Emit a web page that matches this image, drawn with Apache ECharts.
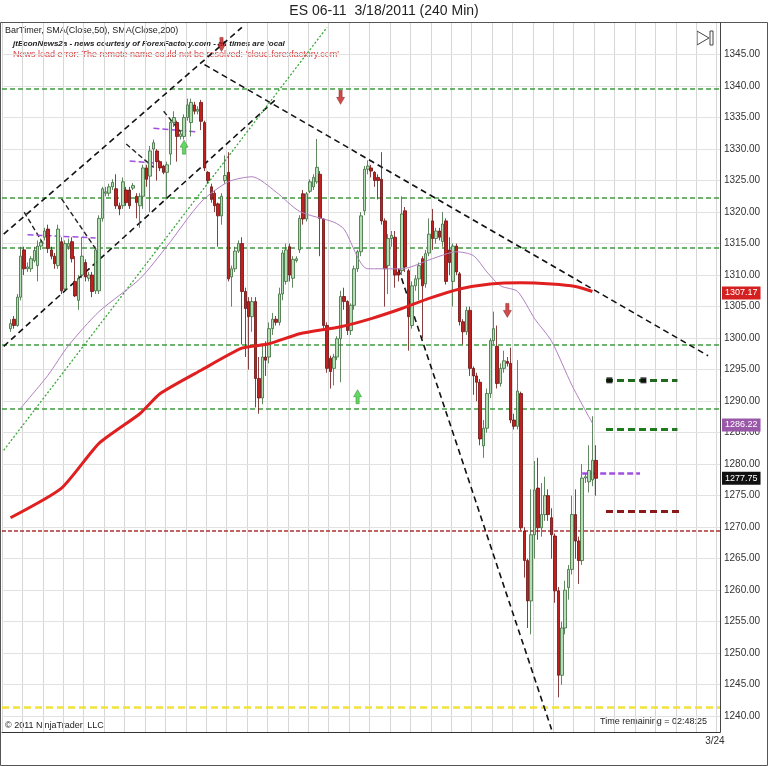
<!DOCTYPE html>
<html><head><meta charset="utf-8">
<script src="https://cdn.jsdelivr.net/npm/echarts@6/dist/echarts.min.js"></script>
<style>html,body{margin:0;padding:0;background:#fff}#c{width:768px;height:766px}</style>
</head><body><div id="c"></div>
<script>
// OHLC rows: [open, close, low, high]
const ohlc = [
[1301.5,1302.3,1301,1303],[1303,1302,1301.5,1303.5],[1302,1306.5,1301.8,1307],[1306.5,1313,1306,1314.5],
[1314,1311,1310,1314.5],[1311,1311.3,1310.5,1312],[1311,1312.6,1310.5,1313],[1312.3,1313.9,1312,1314.5],
[1311.5,1314.6,1309,1315.5],[1314.6,1315.2,1314,1315.8],[1316,1317,1315.5,1317.5],[1317.3,1314.2,1313.5,1318],
[1314,1313,1312.5,1314.5],[1313,1311.8,1311,1313.5],[1311.5,1317.3,1311,1318],[1315.3,1307.5,1307,1316],
[1307.8,1315,1307.5,1315.5],[1314.5,1315,1314,1315.8],[1315.3,1312.6,1312,1316],[1309,1306.7,1306.5,1313],
[1306,1309.4,1304.5,1310],[1310,1313,1309.5,1316],[1312,1309.7,1309,1312.5],[1309.5,1310,1309,1310.5],
[1310,1307.4,1306.5,1310.5],[1307.5,1314,1307,1314.5],[1307.5,1319,1307,1319.5],[1319,1323.7,1318.5,1324],
[1323,1323.2,1322.5,1324],[1323,1324,1322.5,1324.5],[1324,1324.7,1323.5,1325.2],[1323.7,1321,1320.5,1326],
[1321,1320.5,1319.5,1321.5],[1321,1324.8,1320.5,1325.5],[1323.5,1321.5,1321,1324],[1323.5,1321,1320.5,1324],
[1323.8,1324.2,1323.5,1324.6],[1322.5,1321.5,1319,1323],[1321,1322.5,1317.5,1323],[1322.5,1327,1320.5,1327.5],
[1327,1325.2,1324,1327.5],[1325.7,1329.7,1320,1330.5],[1330,1331,1327,1331.5],[1329.7,1328,1325,1330],
[1328,1327,1326.5,1328.2],[1327.3,1326.3,1326,1327.5],[1326.3,1327.5,1322,1328],[1329.2,1334.2,1327.5,1334.5],
[1334.2,1335,1333.5,1336],[1334.2,1332,1328,1334.5],[1332,1332.4,1331.5,1333],[1332,1335,1331.5,1335.5],
[1335,1337,1334.5,1338],[1334.2,1337.4,1332,1338],[1337,1336,1335.5,1337.5],[1336,1336.3,1335.5,1336.8],
[1337.4,1334.4,1333,1337.8],[1334.2,1327,1326.5,1334.5],[1326.3,1325,1324.5,1326.5],[1324,1322,1321.5,1324.5],
[1323,1321,1320,1323.5],[1321.3,1319.4,1314.5,1321.5],[1319.4,1322.5,1318,1323],[1325,1325.8,1324.5,1329],
[1326.3,1309.4,1309,1329.5],[1309.7,1311,1305,1311.5],[1311,1313.8,1310.5,1314.5],[1313.8,1315,1313.5,1315.5],
[1315,1307.4,1299,1316],[1307.4,1304.7,1297,1308],[1305.8,1303.4,1295,1306.5],[1303.4,1305.8,1301,1306.5],
[1305.8,1293.6,1289,1306.5],[1293.6,1290.5,1288,1297],[1290.5,1297,1289.5,1299],[1297,1296.5,1294,1299.5],
[1297,1301.5,1296,1302.5],[1301.5,1303,1300.5,1304],[1303,1302.5,1302,1303.5],[1302.5,1307,1302,1308],
[1307,1313.5,1306,1314],[1309,1314,1308.5,1315],[1314.5,1310,1309,1315],[1309.5,1312.5,1308,1313],
[1312.3,1312.6,1312,1313],[1314,1319,1313.5,1319.5],[1322.9,1318.9,1318,1323.5],[1318.9,1322.9,1318.5,1323.2],
[1323.3,1324.8,1323,1325.2],[1324,1325.5,1323.5,1326],[1324.8,1327.1,1324.5,1331.6],[1326,1319,1313,1326.5],
[1318.9,1302,1301.5,1319],[1302,1295.2,1294.5,1302.5],[1296.8,1294.7,1292,1297.2],[1295.2,1297,1292.5,1297.5],
[1297,1299.9,1296.5,1300.3],[1299.9,1306.6,1293,1307.5],[1306.6,1305.8,1304.5,1308],[1305.8,1301.2,1300.5,1306],
[1301.2,1305.2,1300.5,1305.5],[1305.2,1311,1304.5,1311.5],[1311,1313.7,1310.5,1314],[1313.7,1319.4,1313,1320],
[1320.2,1326.8,1319.5,1327.3],[1326.8,1327.3,1326,1328.2],[1327,1326.5,1325.5,1327.5],[1326.3,1325,1324,1326.5],
[1325.5,1325,1322,1326],[1325.2,1318.6,1318,1329.5],[1318.6,1311,1305,1319],[1311.5,1315.8,1307,1316.5],
[1315.8,1316.3,1314.5,1317],[1316,1310,1308,1317],[1310.5,1310,1309,1311],[1310.7,1319.7,1310,1322.5],
[1320.2,1311.3,1310.5,1320.8],[1310.7,1303.4,1298,1311],[1302,1308.3,1301.5,1309],[1308.3,1309.4,1307.5,1310],
[1309.4,1311.5,1306,1312],[1312.6,1308.3,1300,1313],[1308.6,1313.4,1308,1314],[1313.5,1316.5,1313,1319],
[1318.6,1315.8,1314,1320.5],[1315.8,1317,1315,1317.5],[1317,1316,1315.5,1317.5],[1315.3,1318.1,1314.5,1320],
[1318.6,1309,1308.5,1319],[1314,1312,1310,1316],[1309,1314.6,1305,1315],[1314.6,1310.5,1310,1315],
[1310.2,1302.6,1302,1310.5],[1302.6,1301,1299,1303],[1301,1304.4,1300.5,1305],[1304.4,1295.2,1294,1305],
[1295.2,1294,1291,1295.5],[1294,1293,1290,1294.5],[1293,1284,1283,1293.5],[1282.9,1285.7,1281,1287],
[1285.7,1291.2,1285,1292],[1291.2,1299.6,1290.5,1300],[1299.6,1301.5,1299,1304.2],[1298.7,1292.8,1292,1302],
[1292.8,1295.2,1292.3,1296],[1295.2,1296.4,1294.5,1298],[1296.3,1296,1295.5,1297],[1296,1287,1286.5,1298.5],
[1287,1286,1285.5,1288],[1286,1291.6,1285.5,1296.5],[1291.2,1269.9,1269.5,1291.5],[1269.4,1264.7,1262,1270],
[1264.7,1258.3,1254,1265],[1258.3,1268.8,1253,1276],[1268.8,1275.9,1265,1280.5],[1276.2,1269.9,1268,1281],
[1269.9,1272,1268.5,1277],[1272,1275,1271,1278],[1275,1272,1271,1276],[1271.5,1268.8,1265,1273],
[1268.6,1259.9,1258,1269],[1259.9,1246.5,1243,1260.5],[1246.5,1254,1245,1255],[1254,1260,1253,1261.5],
[1260.4,1263.3,1258.5,1264],[1263.3,1272,1262.5,1275],[1272,1267.8,1265,1276],[1267.8,1264.7,1261,1268.5],
[1264.7,1277.8,1264,1280],[1277.8,1278,1277,1278.5],[1277.2,1279,1275.5,1283],[1277.5,1280.6,1276.5,1287.6],
[1280.6,1277.75,1275,1283]
];
const leadSlots = 2, totalSlots = 211;
const dateLabels = {209: '3/24'};
// SMA(Close,200): [slot, value]
const sma200 = [[2.4,1271.5],[16.6,1276.2],[28.3,1283.3],[40.1,1288],[46,1291.2],[57.7,1294.9],[69.5,1298.4],[78.3,1299.1],[87.1,1300.7],[98.9,1301.8],[107.7,1303.1],[116.6,1304.7],[125.4,1306.3],[134.2,1307.8],[143,1308.6],[151.8,1308.8],[160.7,1308.6],[168,1308.2],[173.3,1307.4]];
// SMA(Close,50)
const sma50 = [[4.8,1288.9],[12.7,1294.1],[18.6,1298.8],[28.3,1304.2],[40.1,1309.4],[48,1314.6],[57.7,1321.6],[65.7,1324.8],[73.3,1325.6],[80.4,1323.2],[87.1,1320.1],[96.8,1318.4],[99.8,1317.3],[106.9,1311],[116.6,1311],[126.3,1312.6],[133.3,1313.7],[138,1313.1],[142.1,1310.5],[145.9,1308.3],[151,1307.4],[155.7,1303.1],[160.8,1299.5],[166.6,1292.5],[173.3,1286.5]];
const greenLevels = [1339.5,1322.3,1314.3,1298.9,1288.8];
const redLevel = 1269.4, yellowLevel = 1241.5;
const gridLevels = [1240,1245,1250,1255,1260,1265,1270,1275,1280,1285,1290,1295,1300,1305,1310,1315,1320,1325,1330,1335,1340,1345];
// trend lines [[slot,price],[slot,price]]
const blackTrends = [[[0,1316.5],[70,1349.3]],[[0,1298.7],[79.8,1337.9]],[[59.2,1343.4],[207.1,1297.2]],[[116,1311],[161.3,1237.9]]];
const smallBlack = [[[6.3,1320],[11.6,1314.6]],[[16.6,1322.1],[28.3,1313.4]],[[35.7,1330.8],[43.9,1327.1]],[[46.9,1336],[52.4,1332.7]]];
const greenDotted = [[0.4,1282.2],[94.5,1349.3]];
const purpleShort = [[[6.9,1316.4],[26.9,1315.9]],[[36.6,1328.1],[43.6,1327.8]],[[43.6,1333.3],[56.9,1332.7]],[[169.5,1278.5],[187.1,1278.5]]];
const rightShort = [{p:1293.3,a:176.9,b:198.3,c:'#1f6a1f'},{p:1285.5,a:176.9,b:198.3,c:'#1f7a1f'},{p:1272.5,a:176.9,b:198.9,c:'#8a1a1a'}];
const squareMarks = [[177.5,1293.3],[187.6,1293.3]];
const downArrows = [[63.6,1346.6],[98.6,1338.2],[148,1304.4]];
const upArrows = [[104.2,1290.7],[52.7,1330.3]];
const priceTags = [{v:1307.17,c:'#d42020'},{v:1286.22,c:'#9a58a8'},{v:1277.75,c:'#111'}];

const cats = []; for (let i=0;i<totalSlots;i++) cats.push('s'+i);
const candleData = []; for (let i=0;i<totalSlots;i++){ const k=i-leadSlots; candleData.push(k>=0&&k<ohlc.length?ohlc[k]:'-'); }

const mlines = [];
gridLevels.forEach(v=>mlines.push({yAxis:v,lineStyle:{color:'#e2e2e2',type:'solid',width:1}}));
greenLevels.forEach(v=>mlines.push({yAxis:v,lineStyle:{color:'#3f9a3f',type:[5,3],width:1.6}}));
mlines.push({yAxis:redLevel,lineStyle:{color:'#b03030',type:[4,2],width:1.5}});
mlines.push({yAxis:yellowLevel,lineStyle:{color:'#f2e23a',type:[7,4],width:2.6}});
blackTrends.forEach(s=>mlines.push([{coord:s[0],lineStyle:{color:'#111',type:[6,4],width:1.6}},{coord:s[1]}]));
smallBlack.forEach(s=>mlines.push([{coord:s[0],lineStyle:{color:'#222',type:[5,3],width:1.4}},{coord:s[1]}]));
mlines.push([{coord:greenDotted[0],lineStyle:{color:'#3aa83a',type:[2,2],width:1.3}},{coord:greenDotted[1]}]);
purpleShort.forEach((s,i)=>mlines.push([{coord:s[0],lineStyle:{color:'#a050e0',type:[6,3],width:i===3?2.6:1.5}},{coord:s[1]}]));
rightShort.forEach(r=>mlines.push([{coord:[r.a,r.p],lineStyle:{color:r.c,type:[7,4],width:3}},{coord:[r.b,r.p]}]));

const tagLines = priceTags.map(t=>({yAxis:t.v,lineStyle:{color:'rgba(0,0,0,0)',width:1},label:{show:true,position:'end',distance:2,formatter:t.v.toFixed(2),backgroundColor:t.c,color:'#fff',fontSize:9,padding:[2,3],fontFamily:'Liberation Sans'}}));

const arrowDown='path://M3,0 L7,0 L7,7 L10,7 L5,14 L0,7 L3,7 Z';
const arrowUp='path://M5,0 L10,7 L7,7 L7,14 L3,14 L3,7 L0,7 Z';

const chart = echarts.init(document.getElementById('c'));
chart.setOption({
 animation:false,
 backgroundColor:'#fff',
 grid:{left:2,right:48,top:23,bottom:34},
 xAxis:{type:'category',data:cats,boundaryGap:true,
   axisLine:{lineStyle:{color:'#333'}},
   axisTick:{interval:(i)=>i%6===0,lineStyle:{color:'#333'},length:5},
   axisLabel:{interval:0,formatter:(v,i)=>dateLabels[i]||'',fontSize:10,color:'#333',fontFamily:'Liberation Sans',margin:4},
   splitLine:{show:true,interval:(i)=>i%6===0,lineStyle:{color:'#d6d6d6'}}},
 yAxis:{type:'value',position:'right',min:1237.5,max:1350,interval:2.5,scale:true,
   axisLine:{show:true,lineStyle:{color:'#444'}},axisTick:{show:false},
   splitLine:{show:false},
   axisLabel:{fontSize:10,color:'#333',fontFamily:'Liberation Sans',margin:4,formatter:v=>(Math.round(v*10)%50===0&&v<=1345)?v.toFixed(2):''}},
 series:[
  {type:'candlestick',data:candleData,barWidth:3,
   itemStyle:{color:'#b4deb4',color0:'#c41f1f',borderColor:'#3a6a3a',borderColor0:'#6a1010',borderWidth:0.8},
   markLine:{silent:true,symbol:['none','none'],label:{show:false},data:mlines,z:1}},
  {type:'line',data:sma50,showSymbol:false,smooth:0.25,lineStyle:{color:'#b080c0',width:1},z:3},
  {type:'line',data:sma200,showSymbol:false,smooth:0.2,lineStyle:{color:'#e02020',width:3},z:3,
   markLine:{silent:true,symbol:['none','none'],data:tagLines}},
  {type:'scatter',data:downArrows,symbol:arrowDown,symbolSize:[8,14],itemStyle:{color:'#c41f1f',borderColor:'#701010',borderWidth:0.5},z:5},
  {type:'scatter',data:upArrows,symbol:arrowUp,symbolSize:[8,14],itemStyle:{color:'#3cd03c',borderColor:'#1a701a',borderWidth:0.5},z:5},
  {type:'scatter',data:squareMarks,symbol:'rect',symbolSize:6,itemStyle:{color:'#000'},z:5}
 ],
 graphic:[
  {type:'rect',shape:{x:0.5,y:22.5,width:767,height:743},style:{fill:'none',stroke:'#555',lineWidth:1},silent:true},
  {type:'text',x:384,y:4,style:{text:'ES 06-11  3/18/2011 (240 Min)',font:'14px "Liberation Sans"',fill:'#222',textAlign:'center'}},
  {type:'text',x:5,y:26,style:{text:'BarTimer, SMA(Close,50), SMA(Close,200)',font:'9px "Liberation Sans"',fill:'#222'}},
  {type:'text',x:13,y:40,style:{text:'jtEconNews2a - news courtesy of ForexFactory.com - all times are local',font:'italic bold 8px "Liberation Sans"',fill:'#222'}},
  {type:'text',x:13,y:50,style:{text:"News load error: The remote name could not be resolved: 'cloud.forexfactory.com'",font:'9px "Liberation Sans"',fill:'#d84040'}},
  {type:'text',x:5,y:721,style:{text:'© 2011 NinjaTrader, LLC',font:'9px "Liberation Sans"',fill:'#222'}},
  {type:'text',x:600,y:717,style:{text:'Time remaining = 02:48:25',font:'9px "Liberation Sans"',fill:'#222'}},
  {type:'polygon',shape:{points:[[697,31],[697,45],[709,38]]},style:{fill:'none',stroke:'#444',lineWidth:1}},
  {type:'rect',shape:{x:710,y:31,width:3,height:14},style:{fill:'none',stroke:'#444',lineWidth:1}}
 ]
});
</script></body></html>
